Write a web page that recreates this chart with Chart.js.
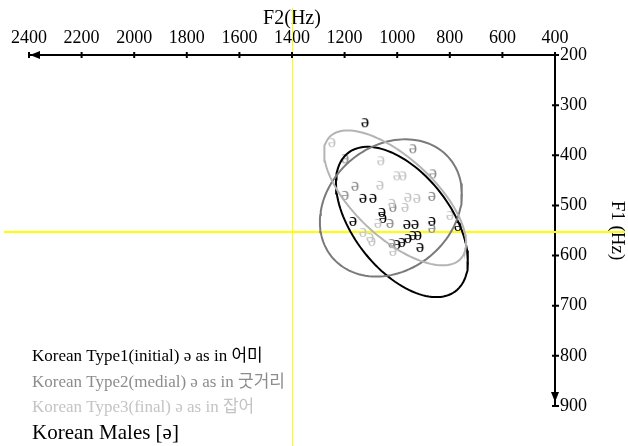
<!DOCTYPE html>
<html>
<head>
<meta charset="utf-8">
<script src="https://cdn.jsdelivr.net/npm/chart.js"></script>
<style>
  body { margin: 0; background: #ffffff; }
</style>
</head>
<body>
<canvas id="myChart" width="628" height="446"></canvas>
<script>
// F2 / F1 values (Hz)
var type1F2 = [1122, 1092, 1130, 1058, 1054, 1168, 963, 932, 868, 769, 1001, 982, 959, 940, 921, 913];
var type1F1 = [334, 485, 485, 513, 525, 531, 537, 537, 531, 541, 577, 573, 565, 559, 559, 583];

var type2F2 = [940, 864, 1198, 1160, 1198, 868, 1027, 1016, 868, 1020];
var type2F1 = [386, 436, 406, 461, 479, 481, 535, 503, 545, 575];

var type3F2 = [1248, 1062, 1001, 978, 1065, 1020, 959, 925, 970, 799, 1073, 1130, 1103, 1096, 1016];
var type3F1 = [374, 410, 440, 440, 459, 495, 483, 485, 503, 519, 535, 553, 563, 571, 591];

// ellipses: centre [F2, F1] and two conjugate half-axes [dF2, dF1]
var ellipse1Center = [982, 533];
var ellipse1U = [-251, 78];
var ellipse1V = [0, 128];
var ellipse2Center = [1024, 505];
var ellipse2U = [-270, -28];
var ellipse2V = [0, 134];
var ellipse3Center = [1008, 485];
var ellipse3U = [-270, 90];
var ellipse3V = [0, 100];

var f2Ticks = [2400, 2200, 2000, 1800, 1600, 1400, 1200, 1000, 800, 600, 400];
var f1Ticks = [200, 300, 400, 500, 600, 700, 800, 900];

var refF2 = 1400;
var refF1 = 552;

var legendLines = [
  'Korean Type1(initial) ə as in 어미',
  'Korean Type2(medial) ə as in 굿거리',
  'Korean Type3(final) ə as in 잡어',
  'Korean Males [ə]'
];

var black = '#000000';
var gray = '#8c8c8c';
var light = '#c4c4c4';

function toPoints(xs, ys) {
  var pts = [];
  for (var i = 0; i < xs.length; i++) {
    pts.push({x: xs[i], y: ys[i]});
  }
  return pts;
}

function ellipsePoints(c, u, v) {
  var pts = [];
  for (var i = 0; i <= 120; i++) {
    var t = i / 120 * Math.PI * 2;
    pts.push({
      x: c[0] + u[0] * Math.cos(t) + v[0] * Math.sin(t),
      y: c[1] + u[1] * Math.cos(t) + v[1] * Math.sin(t)
    });
  }
  return pts;
}

function glyph(color) {
  var c = document.createElement('canvas');
  c.width = 14;
  c.height = 16;
  var g = c.getContext('2d');
  g.font = '19px "Liberation Serif"';
  g.fillStyle = color;
  g.textAlign = 'center';
  g.textBaseline = 'alphabetic';
  g.fillText('ə', 7, 12.5);
  return c;
}

function ellipseSet(c, u, v, color) {
  return {
    data: ellipsePoints(c, u, v),
    showLine: true,
    borderColor: color,
    borderWidth: 2,
    pointRadius: 0,
    fill: false,
    tension: 0
  };
}

var serif = '"Liberation Serif", "Times New Roman", serif';

var decor = {
  id: 'decor',
  beforeDraw: function (chart) {
    var ctx = chart.ctx;
    ctx.save();
    ctx.fillStyle = '#ffffff';
    ctx.fillRect(0, 0, chart.width, chart.height);
    ctx.restore();
  },
  beforeDatasetsDraw: function (chart) {
    var ctx = chart.ctx;
    var xs = chart.scales.x, ys = chart.scales.y;
    var px = Math.round(xs.getPixelForValue(refF2));
    var py = Math.round(ys.getPixelForValue(refF1));
    ctx.save();
    ctx.fillStyle = '#ffff00';
    ctx.fillRect(px, 8, 1, chart.height - 8);
    ctx.fillRect(4, py - 1, chart.width - 7, 2);
    ctx.restore();
  },
  afterDraw: function (chart) {
    var ctx = chart.ctx;
    var xs = chart.scales.x, ys = chart.scales.y;
    var axisY = chart.chartArea.top;
    var axisX = chart.chartArea.right;
    ctx.save();
    ctx.strokeStyle = '#000';
    ctx.fillStyle = '#000';
    ctx.lineWidth = 2;
    // tick marks crossing the axes
    ctx.beginPath();
    f2Ticks.forEach(function (t) {
      var p = xs.getPixelForValue(t);
      ctx.moveTo(p, axisY - 3);
      ctx.lineTo(p, axisY + 3);
    });
    f1Ticks.forEach(function (t) {
      var p = ys.getPixelForValue(t);
      ctx.moveTo(axisX - 3, p);
      ctx.lineTo(axisX + 4, p);
    });
    ctx.stroke();
    // arrow heads
    var left = xs.getPixelForValue(2400);
    ctx.beginPath();
    ctx.moveTo(left + 1, axisY);
    ctx.lineTo(left + 11, axisY - 4);
    ctx.lineTo(left + 11, axisY + 4);
    ctx.closePath();
    ctx.fill();
    var bottom = ys.getPixelForValue(900);
    ctx.beginPath();
    ctx.moveTo(axisX, bottom - 4);
    ctx.lineTo(axisX - 4, bottom - 14);
    ctx.lineTo(axisX + 4, bottom - 14);
    ctx.closePath();
    ctx.fill();
    // legend text
    ctx.textAlign = 'left';
    ctx.textBaseline = 'alphabetic';
    var colors = [black, gray, light, black];
    var sizes = [17, 17, 17, 21];
    var bases = [361, 387, 412, 439];
    for (var i = 0; i < legendLines.length; i++) {
      ctx.font = sizes[i] + 'px "Liberation Serif", "Noto Sans CJK KR", serif';
      ctx.fillStyle = colors[i];
      ctx.fillText(legendLines[i], 32, bases[i]);
    }
    ctx.restore();
  }
};

const data = {
  datasets: [
    ellipseSet(ellipse3Center, ellipse3U, ellipse3V, '#b4b4b4'),
    ellipseSet(ellipse2Center, ellipse2U, ellipse2V, '#7a7a7a'),
    ellipseSet(ellipse1Center, ellipse1U, ellipse1V, black),
    {
      label: 'Type3',
      data: toPoints(type3F2, type3F1),
      pointStyle: glyph(light),
      showLine: false
    },
    {
      label: 'Type2',
      data: toPoints(type2F2, type2F1),
      pointStyle: glyph(gray),
      showLine: false
    },
    {
      label: 'Type1',
      data: toPoints(type1F2, type1F1),
      pointStyle: glyph(black),
      showLine: false
    }
  ]
};

function plain(v) { return String(v); }

const config = {
  type: 'scatter',
  data: data,
  options: {
    responsive: false,
    animation: false,
    layout: { padding: { left: 29, right: 0, top: 0, bottom: 40 } },
    plugins: {
      legend: { display: false },
      tooltip: { enabled: false }
    },
    scales: {
      x: {
        type: 'linear',
        position: 'top',
        reverse: true,
        min: 400,
        max: 2400,
        afterBuildTicks: function (s) { s.ticks = f2Ticks.map(function (v) { return {value: v}; }); },
        afterFit: function (s) { s.height = 55; },
        ticks: { color: '#000', font: { family: serif, size: 18 }, padding: 6, maxRotation: 0, autoSkip: false, callback: plain },
        grid: { display: false, drawTicks: false },
        border: { display: true, color: '#000', width: 2 },
        title: { display: true, text: 'F2(Hz)', color: '#000', font: { family: serif, size: 20 }, padding: { top: 7, bottom: 0 } }
      },
      y: {
        type: 'linear',
        position: 'right',
        reverse: true,
        min: 200,
        max: 900,
        afterBuildTicks: function (s) { s.ticks = f1Ticks.map(function (v) { return {value: v}; }); },
        afterFit: function (s) { s.width = 73; },
        ticks: { color: '#000', font: { family: serif, size: 18 }, padding: 5, autoSkip: false, callback: plain },
        grid: { display: false, drawTicks: false },
        border: { display: true, color: '#000', width: 2 },
        title: { display: true, text: 'F1 (Hz)', color: '#000', font: { family: serif, size: 19 }, padding: { top: 0, bottom: 3 } }
      }
    }
  },
  plugins: [decor]
};

var myChart = new Chart(document.getElementById('myChart'), config);
</script>
</body>
</html>
